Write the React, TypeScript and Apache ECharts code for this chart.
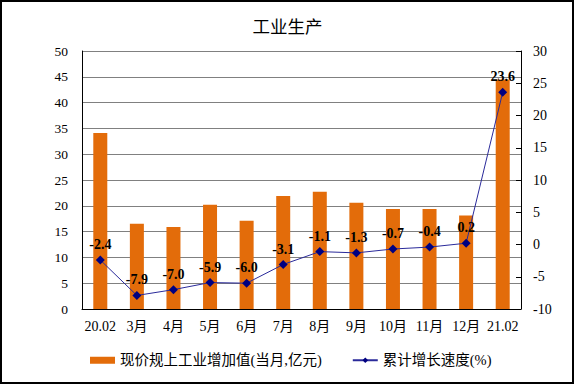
import React, { useEffect, useRef } from "react";
import * as echarts from "echarts";

const categories = ["20.02", "3月", "4月", "5月", "6月", "7月", "8月", "9月", "10月", "11月", "12月", "21.02"];
const valueAdded = [34.1, 16.5, 15.9, 20.2, 17.1, 21.9, 22.7, 20.6, 19.4, 19.4, 18.1, 44.5];
const growthRate = [-2.4, -7.9, -7.0, -5.9, -6.0, -3.1, -1.1, -1.3, -0.7, -0.4, 0.2, 23.6];
const barName = "现价规上工业增加值(当月,亿元)";
const lineName = "累计增长速度(%)";
const titleText = "工业生产";

const FONT = "'Liberation Serif', 'Noto Sans CJK SC', serif";

export default function App() {
  const ref = useRef<HTMLDivElement>(null);
  useEffect(() => {
    document.body.style.margin = "0";
    const chart = echarts.init(ref.current!, null, { renderer: "svg" });
    chart.setOption({
      animation: false,
      backgroundColor: "#ffffff",
      title: {
        text: titleText,
        left: "center",
        top: 12,
        textStyle: { fontSize: 17.5, fontWeight: "normal", color: "#000", fontFamily: "'Noto Sans CJK SC', sans-serif" },
      },
      graphic: [
        {
          type: "rect",
          shape: { x: 1, y: 1, width: 572, height: 382 },
          style: { fill: "none", stroke: "#000", lineWidth: 2 },
          silent: true,
        },
      ],
      grid: { left: 82, right: 54, top: 51, bottom: 76 },
      legend: {
        left: 85,
        top: 348,
        itemGap: 30,
        itemWidth: 25,
        itemHeight: 7,
        textStyle: { fontSize: 14.5, color: "#000", fontFamily: FONT },
        data: [
          { name: barName, icon: "rect" },
          { name: lineName },
        ],
      },
      xAxis: {
        type: "category",
        data: categories,
        axisLine: { lineStyle: { color: "#000", width: 1 } },
        axisTick: { inside: true, length: 5, lineStyle: { color: "#000" } },
        axisLabel: { fontSize: 14, color: "#000", fontFamily: FONT, margin: 10, interval: 0 },
      },
      yAxis: [
        {
          type: "value",
          min: 0,
          max: 50,
          interval: 5,
          axisLine: { show: true, lineStyle: { color: "#000" } },
          axisTick: { show: false },
          splitLine: { lineStyle: { color: "#808080", width: 1 } },
          axisLabel: { fontSize: 13.5, color: "#000", fontFamily: FONT, margin: 14 },
        },
        {
          type: "value",
          min: -10,
          max: 30,
          interval: 5,
          position: "right",
          axisLine: { show: true, lineStyle: { color: "#000" } },
          axisTick: { show: true, inside: true, length: 5, lineStyle: { color: "#000" } },
          splitLine: { show: false },
          axisLabel: { fontSize: 14, color: "#000", fontFamily: FONT, margin: 12 },
        },
      ],
      series: [
        {
          name: barName,
          type: "bar",
          data: valueAdded,
          barWidth: 14,
          itemStyle: { color: "#E36C0A" },
          yAxisIndex: 0,
        },
        {
          name: lineName,
          type: "line",
          data: growthRate,
          yAxisIndex: 1,
          symbol: "diamond",
          symbolSize: 9,
          lineStyle: { color: "#2a2a9a", width: 1 },
          itemStyle: { color: "#000080" },
          label: {
            show: true,
            position: "top",
            distance: 4,
            fontSize: 14,
            fontWeight: "bold",
            color: "#000",
            fontFamily: FONT,
            formatter: (p: any) => Number(p.value).toFixed(1),
          },
        },
      ],
    });
    return () => chart.dispose();
  }, []);
  return <div ref={ref} style={{ width: 575, height: 385 }} />;
}
